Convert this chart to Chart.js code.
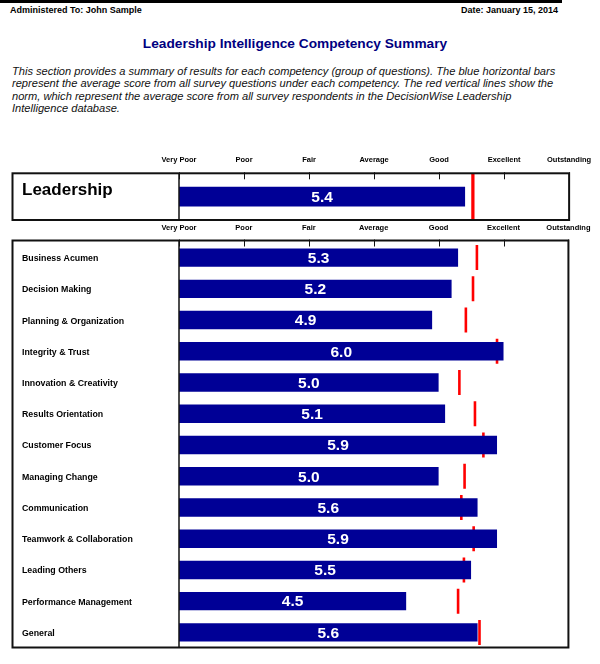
<!DOCTYPE html>
<html>
<head>
<meta charset="utf-8">
<script src="https://cdn.jsdelivr.net/npm/chart.js@4.4.1/dist/chart.umd.min.js"></script>
<style>
    body { margin: 0; background: #fff; font-family: 'Liberation Sans', Arial, sans-serif; }
    #page { position: relative; width: 600px; height: 664px; overflow: hidden; }
    .abs { position: absolute; }
    #topLine { left: 0; top: 0; width: 562px; height: 3px; background: #000; }
    #admin { left: 10px; top: 5px; font-size: 9px; font-weight: bold; }
    #date { right: 42px; top: 5px; font-size: 9px; font-weight: bold; }
    #title { left: 0; width: 590px; top: 36px; text-align: center; font-size: 13.7px; font-weight: bold; color: #000080; }
    #intro { left: 12px; top: 65px; font-size: 11.1px; font-style: italic; line-height: 12.4px; white-space: nowrap; color: #111; }
    canvas { position: absolute; left: 0; }
</style>
</head>
<body>
<div id="page">
    <div id="topLine" class="abs"></div>
    <div id="admin" class="abs">Administered To: John Sample</div>
    <div id="date" class="abs">Date: January 15, 2014</div>
    <div id="title" class="abs">Leadership Intelligence Competency Summary</div>
    <div id="intro" class="abs">This section provides a summary of results for each competency (group of questions). The blue horizontal bars<br>represent the average score from all survey questions under each competency. The red vertical lines show the<br>norm, which represent the average score from all survey respondents in the DecisionWise Leadership<br>Intelligence database.</div>
    <div style="position:absolute;left:0;top:150px;width:600px;height:72px"><canvas id="overallChart"></canvas></div>
    <div style="position:absolute;left:0;top:222px;width:600px;height:442px"><canvas id="detailChart"></canvas></div>
</div>
<script>
// rating scale labels (1 = Very Poor ... 7 = Outstanding)
const tickLabels = ['Very Poor', 'Poor', 'Fair', 'Average', 'Good', 'Excellent', 'Outstanding'];

// overall score
const overallCategory = ['Leadership'];
const overallScore = [5.4];
const overallNorm = [5.52];

// competency scores
const categories = [
    'Business Acumen', 'Decision Making', 'Planning & Organization', 'Integrity & Trust',
    'Innovation & Creativity', 'Results Orientation', 'Customer Focus', 'Managing Change',
    'Communication', 'Teamwork & Collaboration', 'Leading Others', 'Performance Management', 'General'
];
const scores = [5.3, 5.2, 4.9, 6.0, 5.0, 5.1, 5.9, 5.0, 5.6, 5.9, 5.5, 4.5, 5.6];
const norms = [5.59, 5.53, 5.42, 5.90, 5.32, 5.56, 5.69, 5.40, 5.35, 5.54, 5.39, 5.30, 5.63];

const FONT = "'Liberation Sans', Arial, sans-serif";
const BAR_BLUE = '#000096';
const NORM_RED = '#ff0000';
const NORM_HALF = 0.02; // half width of the norm marker, in scale units

// box, divider, tick marks and the score text
const boxPlugin = {
    id: 'boxPlugin',
    afterDatasetsDraw(chart, args, opts) {
        const ctx = chart.ctx;
        const area = chart.chartArea;
        const xs = chart.scales.x;
        const top = area.top - (opts.topInset || 0);
        const bottom = area.bottom - (opts.bottomInset || 0);
        ctx.save();

        // score labels in the middle of each bar
        const meta = chart.getDatasetMeta(0);
        ctx.fillStyle = '#fff';
        ctx.font = 'bold 15.5px ' + FONT;
        ctx.textAlign = 'center';
        ctx.textBaseline = 'middle';
        meta.data.forEach((bar, i) => {
            const v = chart.data.datasets[0].data[i];
            ctx.fillText(v.toFixed(1), (bar.x + bar.base) / 2, bar.y + 1);
        });

        // outer box
        ctx.strokeStyle = '#111';
        ctx.lineWidth = 2;
        ctx.strokeRect(12.5, top, area.right - 12.5, bottom - top);

        // divider between labels and bars
        ctx.lineWidth = 1.5;
        ctx.beginPath();
        ctx.moveTo(area.left, top);
        ctx.lineTo(area.left, bottom);
        ctx.stroke();

        // tick marks going down from the top edge
        ctx.lineWidth = 1;
        xs.ticks.forEach(t => {
            const px = Math.round(xs.getPixelForValue(t.value)) + 0.5;
            ctx.beginPath();
            ctx.moveTo(px, top - 1);
            ctx.lineTo(px, top + 6);
            ctx.stroke();
        });
        ctx.restore();
    }
};

function makeConfig(labels, values, normValues, o) {
    return {
        type: 'bar',
        data: {
            labels: labels,
            datasets: [{
                data: values,
                base: 1,
                backgroundColor: BAR_BLUE,
                barPercentage: o.barPct,
                categoryPercentage: 1,
                grouped: false,
                order: 0
            }, {
                data: normValues.map(n => [n - NORM_HALF, n + NORM_HALF]),
                backgroundColor: NORM_RED,
                barPercentage: o.normPct,
                categoryPercentage: 1,
                grouped: false,
                order: 1
            }]
        },
        options: {
            indexAxis: 'y',
            responsive: true,
            maintainAspectRatio: false,
            animation: false,
            layout: { padding: { left: 22, right: 29, top: 0, bottom: o.padBottom } },
            scales: {
                x: {
                    position: 'top',
                    min: 1,
                    max: 7,
                    grid: { display: false, drawTicks: false },
                    border: { display: false },
                    ticks: {
                        stepSize: 1,
                        padding: o.tickPad,
                        color: '#000',
                        font: { family: FONT, size: 7.5, weight: 'bold' },
                        callback: v => tickLabels[v - 1]
                    },
                    afterFit: s => { s.height = o.axisHeight; }
                },
                y: {
                    grid: { display: false },
                    border: { display: false },
                    ticks: {
                        crossAlign: 'far',
                        labelOffset: o.labelOffset,
                        color: '#000',
                        font: { family: FONT, size: o.labelSize, weight: 'bold' }
                    },
                    afterFit: s => {
                        s.width = 157;
                        // the labels sit inside the rows, no extra room needed
                        s.paddingTop = 0;
                        s.paddingBottom = 0;
                    }
                }
            },
            plugins: {
                legend: { display: false },
                tooltip: { enabled: false },
                boxPlugin: { topInset: o.topInset, bottomInset: o.bottomInset }
            }
        },
        plugins: [boxPlugin]
    };
}

new Chart(document.getElementById('overallChart'),
    makeConfig(overallCategory, overallScore, overallNorm, {
        barPct: 0.42, normPct: 1, padBottom: 2, tickPad: 8.8, axisHeight: 23.3,
        labelOffset: -6, labelSize: 17, topInset: 0, bottomInset: 0
    }));

new Chart(document.getElementById('detailChart'),
    makeConfig(categories, scores, norms, {
        barPct: 0.59, normPct: 0.8, padBottom: 16, tickPad: 9.5, axisHeight: 20,
        labelOffset: 1, labelSize: 8.8, topInset: 1.5, bottomInset: 0.5
    }));
</script>
</body>
</html>
